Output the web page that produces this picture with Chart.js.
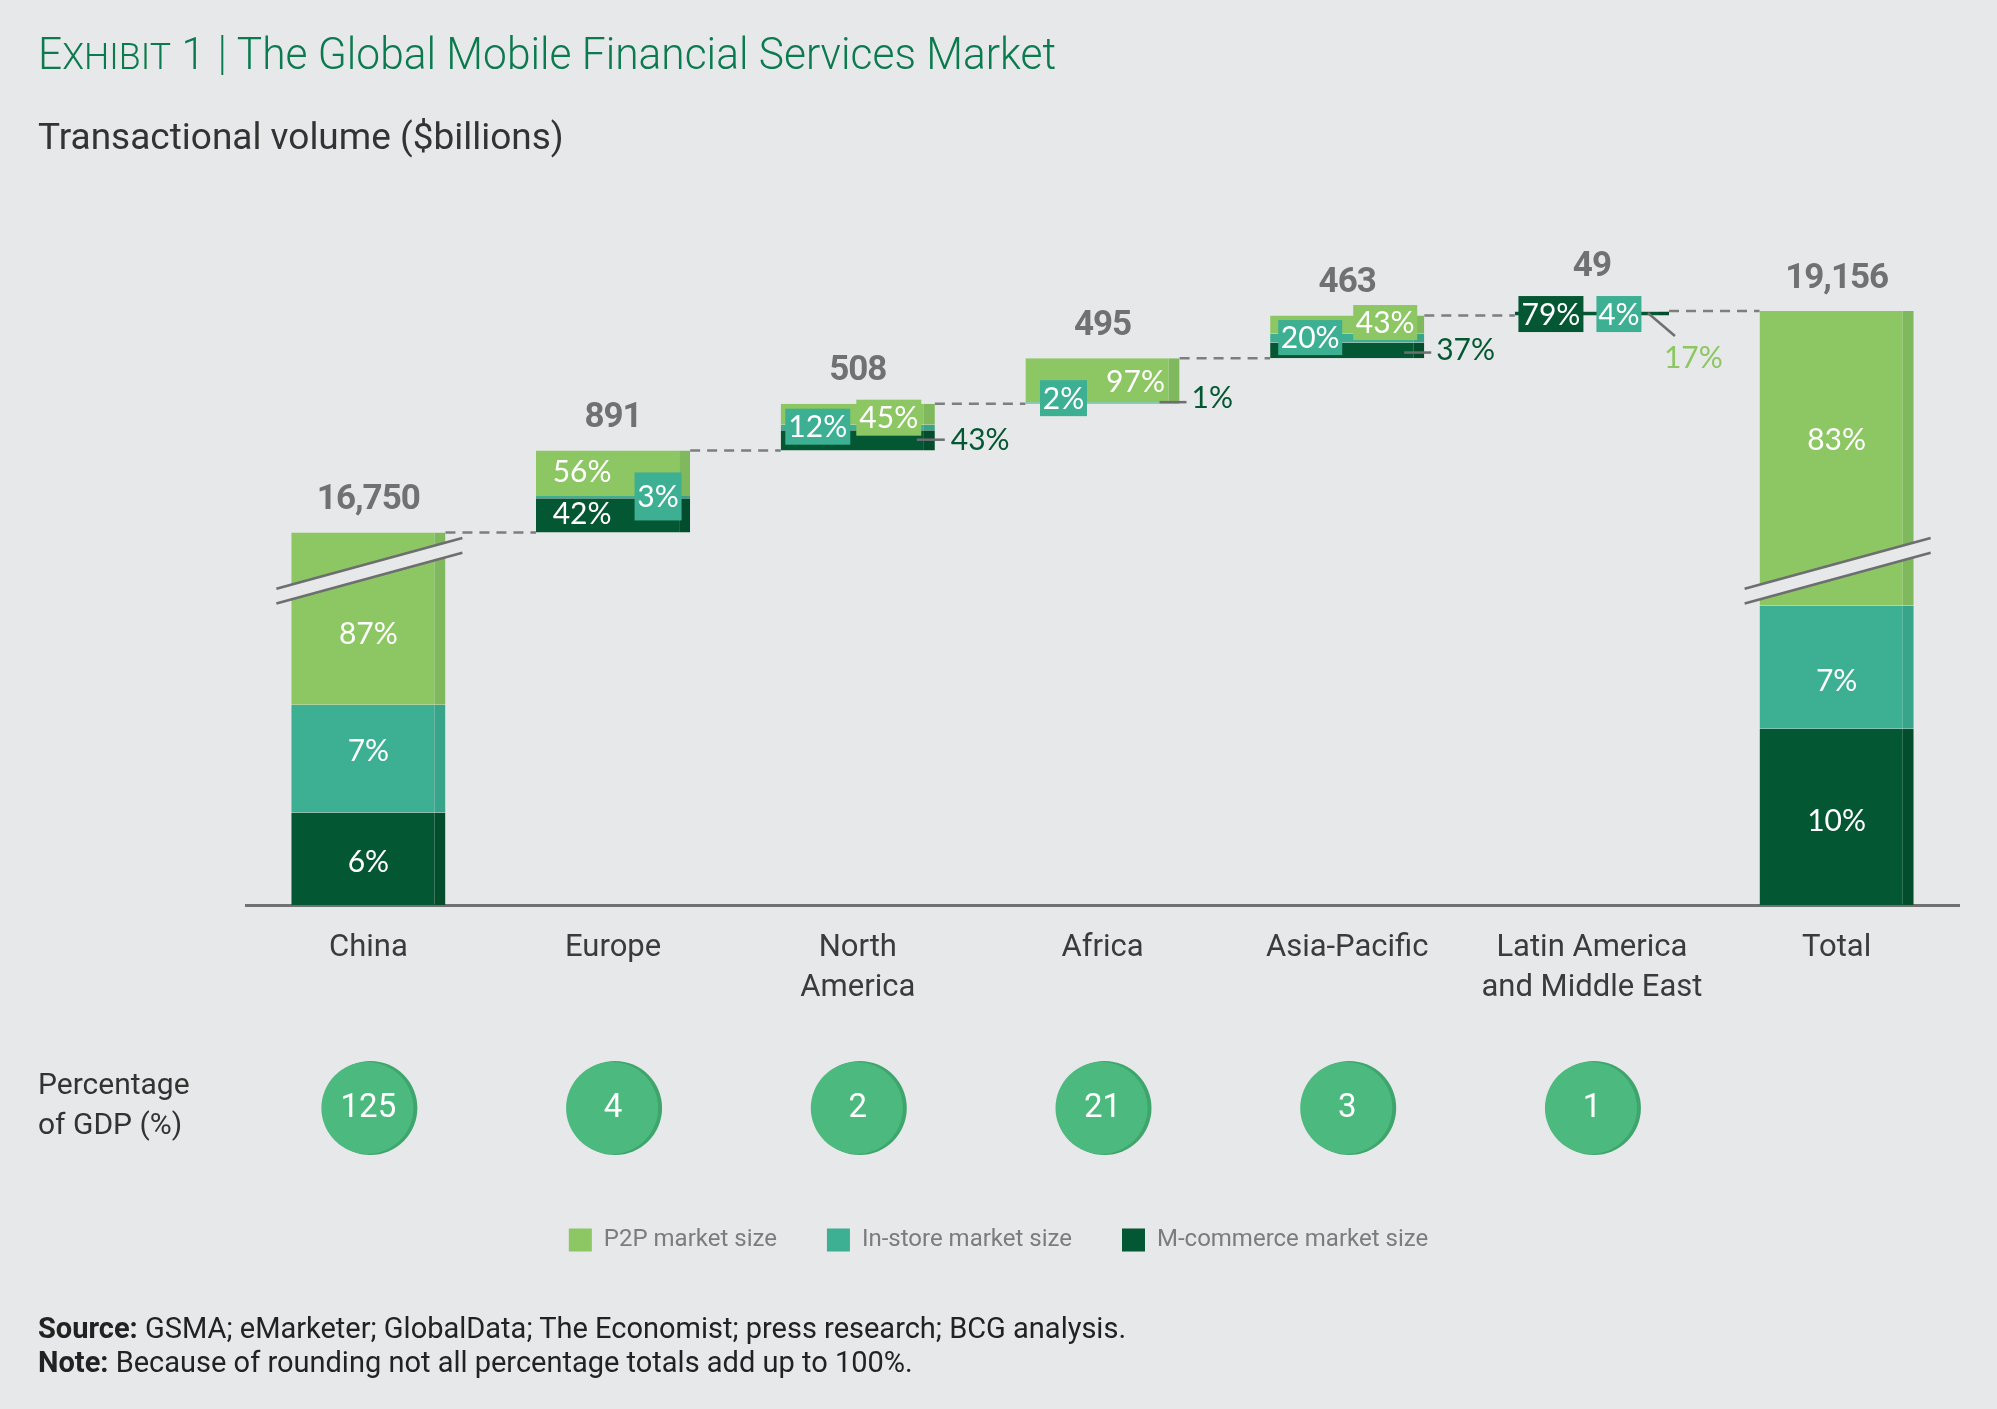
<!DOCTYPE html>
<html>
<head>
<meta charset="utf-8">
<title>The Global Mobile Financial Services Market</title>
<script src="https://cdn.jsdelivr.net/npm/chart.js@4.4.0/dist/chart.umd.min.js"></script>
<style>
  html, body { margin: 0; padding: 0; background: #e7e8e9; }
  #page { position: relative; width: 1997px; height: 1409px; overflow: hidden; font-family: Roboto, sans-serif; }
  #chart-box { position: absolute; left: 0; top: 0; width: 1997px; height: 1409px; }
  .title { position: absolute; left: 38px; top: 32px; color: #0b7a4f; font-size: 44px; line-height: 44px; font-weight: 300; white-space: nowrap; transform-origin: left top; transform: scaleX(0.965); }
  .title .sc { font-size: 37px; }
  .title .sep { display: inline-block; width: 0; height: 40px; border-left: 2px solid #0b7a4f; margin: 0 14px 0 17px; vertical-align: -6px; }
  .subtitle { position: absolute; left: 38px; top: 118px; color: #333; font-size: 37px; line-height: 37px; white-space: nowrap; }
  .rowlabel { position: absolute; left: 38px; top: 1064px; color: #333; font-size: 30px; line-height: 40px; }
  .foot { position: absolute; left: 38px; color: #222; font-size: 29px; line-height: 29px; white-space: nowrap; }
</style>
</head>
<body>
<div id="page">
  <div id="chart-box"><canvas id="mfs-chart"></canvas></div>
  <div class="title">E<span class="sc">XHIBIT</span> 1<span class="sep"></span>The Global Mobile Financial Services Market</div>
  <div class="subtitle">Transactional volume ($billions)</div>
  <div class="rowlabel">Percentage<br>of GDP (%)</div>
  <div class="foot" style="top:1314px"><b>Source:</b> GSMA; eMarketer; GlobalData; The Economist; press research; BCG analysis.</div>
  <div class="foot" style="top:1348px"><b>Note:</b> Because of rounding not all percentage totals add up to 100%.</div>
</div>
<script>
var regions = ['China', 'Europe', ['North', 'America'], 'Africa', 'Asia-Pacific', ['Latin America', 'and Middle East'], 'Total'];
var volume = [16750, 891, 508, 495, 463, 49, 19156];
var p2pShare = [87, 56, 45, 97, 43, 17, 83];
var instoreShare = [7, 3, 12, 2, 20, 4, 7];
var mcommerceShare = [6, 42, 43, 1, 37, 79, 10];
var gdpShare = [125, 4, 2, 21, 3, 1, null];

// value axis is broken: the span [axisBreakAt, axisBreakAt + axisBreakGap] is cut out
var axisBreakAt = 3630;
var axisBreakGap = 12700;

var BG = '#e7e8e9';
var colors = {
    p2p: '#8cc763', instore: '#3daf93', mcom: '#045733'
};
var edgeColors = {
    p2p: '#80b95d', instore: '#38a48a', mcom: '#034d2d'
};

function squash(v) {
    if (v <= axisBreakAt) return v;
    return Math.max(axisBreakAt, v - axisBreakGap);
}

// waterfall: regions start where the previous one ended, China and Total start at 0
var last = volume.length - 1;
var bases = volume.map(function (v, i) {
    if (i === 0 || i === last) return 0;
    return volume.slice(0, i).reduce(function (a, b) { return a + b; }, 0);
});

function segments(i) {
    var sum = p2pShare[i] + instoreShare[i] + mcommerceShare[i];
    var m = volume[i] * mcommerceShare[i] / sum;
    var s = volume[i] * instoreShare[i] / sum;
    var b = bases[i];
    return {
        mcom: [b, b + m],
        instore: [b + m, b + m + s],
        p2p: [b + m + s, b + volume[i]]
    };
}

function seriesData(key) {
    return volume.map(function (v, i) {
        return segments(i)[key].map(squash);
    });
}

var shares = { p2p: p2pShare, instore: instoreShare, mcom: mcommerceShare };
var dsIndex = { p2p: 0, instore: 1, mcom: 2 };

// where each percentage label sits, relative to bar centre / bar top
var labelLayout = [
    { p2p: { mode: 'text', dx: 0, dy: 102 }, instore: { mode: 'mid', dy: -7 }, mcom: { mode: 'mid', dy: 4 } },
    { p2p: { mode: 'text', dx: -31, dy: 22 }, mcom: { mode: 'text', dx: -31, dy: 64 },
      instore: { mode: 'box', dx: 45, dy: 46, w: 47, h: 48 } },
    { instore: { mode: 'box', dx: -40, dy: 23, w: 65, h: 36 }, p2p: { mode: 'box', dx: 31, dy: 14, w: 65, h: 36 },
      mcom: { mode: 'callout', dx: 93, dy: 37, lead: [59, 36, 87, 36] } },
    { instore: { mode: 'box', dx: -39, dy: 40, w: 47, h: 36 }, p2p: { mode: 'text', dx: 33, dy: 24 },
      mcom: { mode: 'callout', dx: 89, dy: 40, lead: [57, 44, 84, 44] } },
    { instore: { mode: 'box', dx: -37, dy: 22, w: 64, h: 35 }, p2p: { mode: 'box', dx: 38, dy: 7, w: 64, h: 35 },
      mcom: { mode: 'callout', dx: 89, dy: 35, lead: [57, 37, 84, 37] } },
    { mcom: { mode: 'box', dx: -41, dy: 3, w: 65, h: 36 }, instore: { mode: 'box', dx: 27, dy: 3, w: 45, h: 36 },
      p2p: { mode: 'callout', dx: 72, dy: 47, lead: [56, 2, 83, 25] } },
    { p2p: { mode: 'text', dx: 0, dy: 129 }, instore: { mode: 'mid', dy: 14 }, mcom: { mode: 'mid', dy: 4 } }
];
var totalOffset = [-32, -32, -32, -32, -32, -44, -32];

var waterfallDecor = {
    id: 'waterfallDecor',
    afterDatasetsDraw: function (chart) {
        var ctx = chart.ctx;
        var top = chart.getDatasetMeta(0).data;
        ctx.save();

        // dashed connectors between steps
        ctx.strokeStyle = '#7d7e80';
        ctx.lineWidth = 2.5;
        ctx.setLineDash([10, 7]);
        for (var i = 0; i < top.length - 1; i++) {
            var a = top[i], b = top[i + 1];
            ctx.beginPath();
            ctx.moveTo(a.x + a.width / 2, a.y);
            ctx.lineTo(b.x - b.width / 2, a.y);
            ctx.stroke();
        }
        ctx.setLineDash([]);

        // break marks on China and Total
        var y0 = chart.scales.y.getPixelForValue(axisBreakAt);
        var k = -0.273, g = 7.4;
        [0, last].forEach(function (i) {
            var cx = top[i].x, xl = cx - 92, xr = cx + 94;
            ctx.fillStyle = BG;
            ctx.beginPath();
            ctx.moveTo(xl, y0 - g + k * (xl - cx));
            ctx.lineTo(xr, y0 - g + k * (xr - cx));
            ctx.lineTo(xr, y0 + g + k * (xr - cx));
            ctx.lineTo(xl, y0 + g + k * (xl - cx));
            ctx.closePath();
            ctx.fill();
            ctx.strokeStyle = '#6d6e70';
            ctx.lineWidth = 2.5;
            [-g, g].forEach(function (o) {
                ctx.beginPath();
                ctx.moveTo(xl, y0 + o + k * (xl - cx));
                ctx.lineTo(xr, y0 + o + k * (xr - cx));
                ctx.stroke();
            });
        });

        // totals above the bars
        ctx.font = 'bold 35px Roboto';
        ctx.fillStyle = '#707173';
        ctx.textAlign = 'center';
        ctx.textBaseline = 'middle';
        ctx.letterSpacing = '-1px';
        volume.forEach(function (v, i) {
            ctx.fillText(v.toLocaleString('en-US'), top[i].x, top[i].y + totalOffset[i]);
        });
        ctx.letterSpacing = '0px';

        // share labels
        ctx.font = '30px Lato';
        labelLayout.forEach(function (lay, i) {
            var cx = top[i].x, ty = top[i].y;
            Object.keys(lay).forEach(function (key) {
                var spec = lay[key];
                var txt = shares[key][i] + '%';
                if (spec.mode === 'mid') {
                    var el = chart.getDatasetMeta(dsIndex[key]).data[i];
                    ctx.fillStyle = '#ffffff';
                    ctx.textAlign = 'center';
                    ctx.fillText(txt, cx, (el.y + el.base) / 2 + spec.dy);
                } else if (spec.mode === 'text') {
                    ctx.fillStyle = '#ffffff';
                    ctx.textAlign = 'center';
                    ctx.fillText(txt, cx + spec.dx, ty + spec.dy);
                } else if (spec.mode === 'box') {
                    ctx.fillStyle = colors[key];
                    ctx.fillRect(cx + spec.dx - spec.w / 2, ty + spec.dy - spec.h / 2, spec.w, spec.h);
                    ctx.fillStyle = '#ffffff';
                    ctx.textAlign = 'center';
                    ctx.fillText(txt, cx + spec.dx, ty + spec.dy + 1);
                } else if (spec.mode === 'callout') {
                    ctx.strokeStyle = '#6d6e70';
                    ctx.lineWidth = 2.5;
                    ctx.beginPath();
                    ctx.moveTo(cx + spec.lead[0], ty + spec.lead[1]);
                    ctx.lineTo(cx + spec.lead[2], ty + spec.lead[3]);
                    ctx.stroke();
                    ctx.fillStyle = colors[key];
                    ctx.textAlign = 'left';
                    ctx.fillText(txt, cx + spec.dx, ty + spec.dy);
                }
            });
        });
        ctx.restore();
    },
    afterDraw: function (chart) {
        // percentage of GDP row
        var ctx = chart.ctx;
        var xs = chart.scales.x;
        var cy = 1108, r = 47;
        ctx.save();
        gdpShare.forEach(function (g, i) {
            if (g === null) return;
            var cx = xs.getPixelForValue(i);
            ctx.fillStyle = '#3ea56d';
            ctx.beginPath();
            ctx.arc(cx + 2, cy, r, 0, Math.PI * 2);
            ctx.fill();
            ctx.fillStyle = '#4cba7e';
            ctx.beginPath();
            ctx.arc(cx - 1, cy, r - 1, 0, Math.PI * 2);
            ctx.fill();
            ctx.fillStyle = '#ffffff';
            ctx.font = '33px Roboto';
            ctx.textAlign = 'center';
            ctx.textBaseline = 'middle';
            ctx.fillText(String(g), cx, cy + 1);
        });
        ctx.restore();
    }
};

function barSet(label, key) {
    return {
        label: label,
        data: seriesData(key),
        backgroundColor: colors[key],
        borderColor: edgeColors[key],
        borderWidth: { top: 0, left: 0, bottom: 0, right: 11 },
        borderSkipped: false,
        grouped: false,
        barPercentage: 0.63,
        categoryPercentage: 1
    };
}

document.addEventListener('DOMContentLoaded', function () {
    var ctx = document.getElementById('mfs-chart').getContext('2d');

    var mfsChart = new Chart(ctx, {
        type: 'bar',
        data: {
            labels: regions,
            datasets: [
                barSet('P2P market size', 'p2p'),
                barSet('In-store market size', 'instore'),
                barSet('M-commerce market size', 'mcom')
            ]
        },
        options: {
            responsive: true,
            maintainAspectRatio: false,
            animation: false,
            layout: { padding: { top: 169, left: 38, right: 38, bottom: 147 } },
            plugins: {
                tooltip: { enabled: false },
                legend: {
                    position: 'bottom',
                    labels: {
                        font: { family: 'Roboto', size: 24 },
                        color: '#7b7c7e',
                        boxWidth: 23,
                        boxHeight: 23,
                        padding: 50,
                        generateLabels: function (chart) {
                            return Chart.defaults.plugins.legend.labels.generateLabels(chart).map(function (l) {
                                l.lineWidth = 0;
                                return l;
                            });
                        }
                    }
                }
            },
            scales: {
                x: {
                    z: 1,
                    grid: { display: false, drawTicks: false },
                    border: { display: true, color: '#707173', width: 3 },
                    ticks: {
                        color: '#3b3b3b',
                        font: { family: 'Roboto', size: 31, lineHeight: 1.3 },
                        padding: 23,
                        maxRotation: 0,
                        autoSkip: false
                    },
                    afterFit: function (scale) { scale.height = 273; }
                },
                y: {
                    min: 0,
                    max: 8000,
                    grid: { display: false },
                    border: { display: false },
                    ticks: { display: false },
                    afterFit: function (scale) { scale.width = 208; }
                }
            }
        },
        plugins: [waterfallDecor]
    });
});
</script>
</body>
</html>
